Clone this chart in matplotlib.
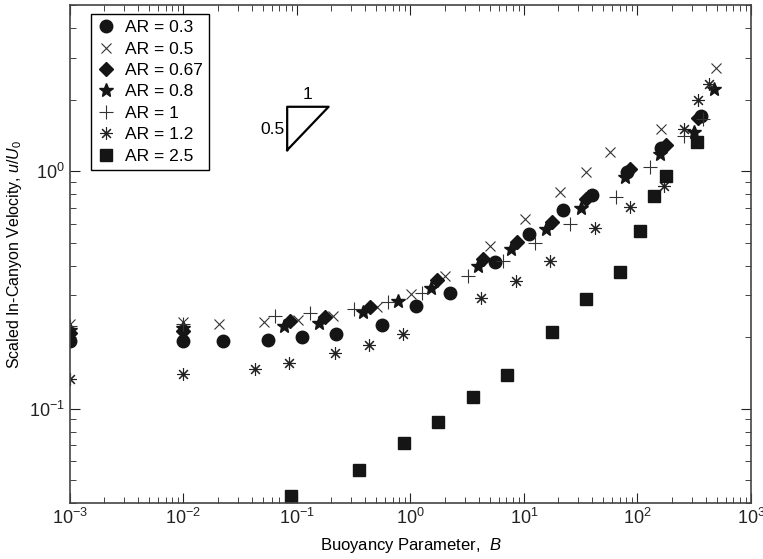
import matplotlib
matplotlib.use('Agg')
from matplotlib import pyplot as plt

plt.rcParams['font.family'] = ['Liberation Sans', 'DejaVu Sans']
plt.rcParams['mathtext.fontset'] = 'custom'
plt.rcParams['mathtext.rm'] = 'Liberation Sans'
plt.rcParams['mathtext.it'] = 'Liberation Sans:italic'

# AR = 0.3 (circles)
B_03 = [0.001, 0.01, 0.0224, 0.0553, 0.111, 0.221, 0.559, 1.11, 2.22, 5.61, 11.1, 22.2, 40, 81.2, 160, 364]
U_03 = [0.192, 0.192, 0.192, 0.195, 0.200, 0.207, 0.225, 0.270, 0.306, 0.414, 0.542, 0.687, 0.79, 0.993, 1.25, 1.71]

# AR = 0.5 (x)
B_05 = [0.001, 0.01, 0.0205, 0.051, 0.102, 0.207, 0.509, 1.01, 2.03, 5.07, 10.2, 20.6, 35, 57.5, 160, 497]
U_05 = [0.226, 0.232, 0.228, 0.231, 0.237, 0.245, 0.269, 0.303, 0.36, 0.484, 0.627, 0.813, 0.993, 1.20, 1.50, 2.72]

# AR = 0.67 (diamonds)
B_067 = [0.001, 0.01, 0.0877, 0.178, 0.444, 1.72, 4.37, 8.71, 17.5, 35.3, 86.7, 177, 345]
U_067 = [0.209, 0.212, 0.234, 0.243, 0.269, 0.347, 0.428, 0.503, 0.611, 0.762, 1.02, 1.29, 1.67]

# AR = 0.8 (stars)
B_08 = [0.001, 0.01, 0.0765, 0.156, 0.383, 0.773, 1.52, 3.92, 7.76, 15.6, 31.5, 78.4, 157, 313, 470]
U_08 = [0.215, 0.218, 0.222, 0.230, 0.255, 0.284, 0.323, 0.398, 0.469, 0.569, 0.698, 0.940, 1.18, 1.46, 2.22]

# AR = 1 (+)
B_1 = [0.001, 0.01, 0.0637, 0.129, 0.321, 0.637, 1.27, 3.22, 6.56, 12.6, 25.7, 65.3, 128, 259, 380]
U_1 = [0.222, 0.228, 0.245, 0.252, 0.263, 0.281, 0.306, 0.362, 0.419, 0.50, 0.597, 0.774, 1.04, 1.41, 1.65]

# AR = 1.2 (asterisks)
B_12 = [0.001, 0.01, 0.0425, 0.0853, 0.215, 0.429, 0.855, 4.22, 8.53, 17.1, 42, 85.5, 171, 256, 340, 425]
U_12 = [0.133, 0.140, 0.147, 0.156, 0.171, 0.186, 0.207, 0.291, 0.344, 0.418, 0.578, 0.707, 0.862, 1.51, 1.99, 2.33]

# AR = 2.5 (squares)
B_25 = [0.0895, 0.355, 0.885, 1.76, 3.59, 7.16, 17.8, 35.5, 70.8, 106, 141, 177, 338]
U_25 = [0.043, 0.0553, 0.0719, 0.0881, 0.112, 0.139, 0.211, 0.288, 0.375, 0.558, 0.785, 0.953, 1.32]

dark = '#151515'

fig = plt.figure(figsize=(7.63, 5.59), dpi=100)
ax = fig.add_axes([0.0917, 0.100, 0.8925, 0.891])

ax.plot(B_03, U_03, 'o', ms=9, color=dark, mec=dark, label='AR = 0.3')
ax.plot(B_05, U_05, 'x', ms=7, color='#333333', mew=0.8, label='AR = 0.5')
ax.plot(B_067, U_067, 'D', ms=7, color=dark, mec=dark, label='AR = 0.67')
ax.plot(B_08, U_08, '*', ms=10, color=dark, mec=dark, label='AR = 0.8')
ax.plot(B_1, U_1, '+', ms=10, color='#333333', mew=0.8, label='AR = 1')
ax.plot(B_12, U_12, marker=(8, 2, 0), ls='none', ms=9, color='#222222', mew=0.8, label='AR = 1.2')
ax.plot(B_25, U_25, 's', ms=8, color=dark, mec=dark, label='AR = 2.5')

ax.set_xscale('log')
ax.set_yscale('log')
ax.set_xlim(1e-3, 1e3)
ax.set_ylim(0.04, 5)

ax.tick_params(which='both', direction='in', top=True, right=True, labelsize=13, colors='#222222')
ax.tick_params(which='major', length=7, width=0.8)
ax.tick_params(which='minor', length=4, width=0.6)
for s in ax.spines.values():
    s.set_color('#444444')
    s.set_linewidth(1.2)

ax.set_xlabel('Buoyancy Parameter,  $\\it{B}$', fontsize=12, labelpad=6)
ax.set_ylabel('Scaled In-Canyon Velocity, $\\it{u/U_0}$', fontsize=11.5, labelpad=4)

# slope 0.5 triangle
tx = [0.082, 0.082, 0.19, 0.082]
ty = [1.225, 1.225 * (0.19 / 0.082) ** 0.5, 1.225 * (0.19 / 0.082) ** 0.5, 1.225]
ax.plot(tx, ty, '-', color='black', lw=1.6)
ax.text(0.125, 1.95, '1', fontsize=12.5, ha='center', va='bottom')
ax.text(0.078, 1.5, '0.5', fontsize=12.5, ha='right', va='center')

leg = ax.legend(loc='upper left', bbox_to_anchor=(0.031, 0.982), borderaxespad=0,
                fontsize=12.5, labelspacing=0.36, borderpad=0.35, handlelength=1.0,
                handletextpad=0.6, fancybox=False, framealpha=1, edgecolor='black')
leg.get_frame().set_linewidth(1.0)

plt.savefig('out.png', dpi=100)
